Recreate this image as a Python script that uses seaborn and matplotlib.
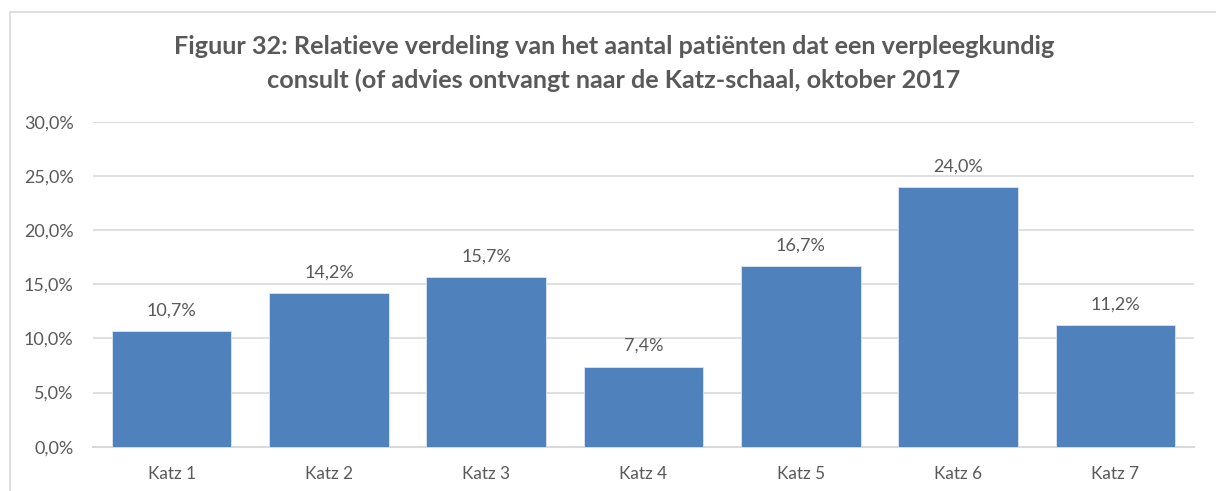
import matplotlib
matplotlib.use("Agg")
import matplotlib.pyplot as plt
import seaborn as sns
import pandas as pd
from matplotlib.patches import Rectangle
from matplotlib.ticker import FuncFormatter, MultipleLocator

categories = ["Katz 1", "Katz 2", "Katz 3", "Katz 4", "Katz 5", "Katz 6", "Katz 7"]
values = [10.7, 14.2, 15.7, 7.4, 16.7, 24.0, 11.2]
title_lines = [
    "Figuur 32: Relatieve verdeling van het aantal patiënten dat een verpleegkundig",
    "consult (of advies ontvangt naar de Katz-schaal, oktober 2017",
]

sns.set_theme(style="white")
plt.rcParams["font.family"] = ["Lato", "DejaVu Sans"]

TXT = "#595959"
BAR = "#4F81BD"
GRID = "#D9D9D9"

df = pd.DataFrame({"cat": categories, "val": values})

fig = plt.figure(figsize=(12.16, 4.91), dpi=100)
ax = fig.add_axes([93 / 1216, 1 - 446.7 / 491, (1194 - 93) / 1216, (446.7 - 122) / 491])

sns.barplot(data=df, x="cat", y="val", color=BAR, saturation=1, width=0.76,
            edgecolor="#DCE6F2", linewidth=0.6, ax=ax, zorder=3)

ax.set_xlim(-0.5, len(categories) - 0.5)
ax.set_ylim(0, 30)
ax.yaxis.set_major_locator(MultipleLocator(5))
ax.yaxis.set_major_formatter(FuncFormatter(lambda v, p: f"{v:.1f}%".replace(".", ",")))
ax.grid(axis="y", color=GRID, linewidth=1.2, zorder=0)
ax.set_axisbelow(True)
for s in ["left", "right", "top"]:
    ax.spines[s].set_visible(False)
ax.spines["bottom"].set_color(GRID)
ax.spines["bottom"].set_linewidth(1.5)
ax.set_xlabel("")
ax.set_ylabel("")
ax.tick_params(axis="x", length=0, labelsize=12.3, colors=TXT, pad=14)
ax.tick_params(axis="y", length=0, labelsize=13, colors=TXT, pad=14)

for c in ax.containers:
    ax.bar_label(c, labels=[f"{v:.1f}%".replace(".", ",") for v in values],
                 padding=9, fontsize=13, color=TXT)

fig.text(0.505, 1 - 47 / 491, title_lines[0], ha="center", va="center",
         fontsize=18.2, fontweight="bold", color=TXT)
fig.text(0.505, 1 - 80 / 491, title_lines[1], ha="center", va="center",
         fontsize=18.2, fontweight="bold", color=TXT)

# chart frame
fig.patches.append(Rectangle((10 / 1216, -0.1), 1.2, 1 - 12 / 491 + 0.1,
                             transform=fig.transFigure, fill=False,
                             edgecolor="#D9D9D9", linewidth=1.2, zorder=0))

fig.savefig("out.png", dpi=100)
